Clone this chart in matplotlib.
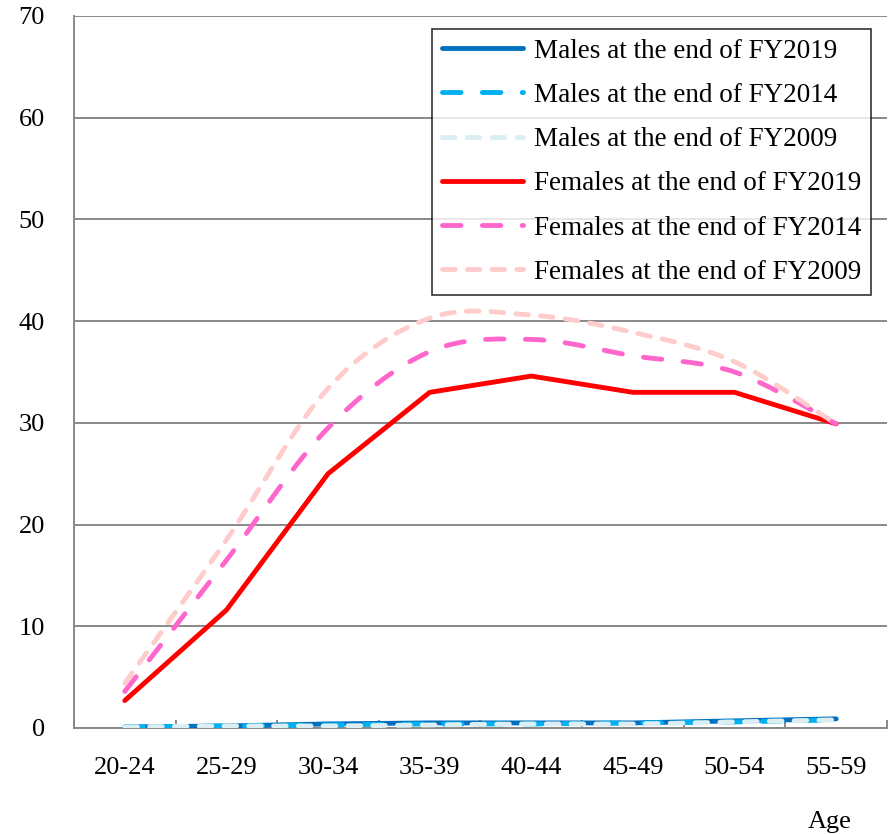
import matplotlib
matplotlib.use("Agg")
import matplotlib.pyplot as plt
import numpy as np
from matplotlib.path import Path
from matplotlib.patches import PathPatch
from matplotlib.lines import Line2D

categories = ["20-24", "25-29", "30-34", "35-39", "40-44", "45-49", "50-54", "55-59"]
males_2019 = [0.1, 0.2, 0.4, 0.5, 0.5, 0.5, 0.7, 0.9]
males_2014 = [0.1, 0.2, 0.3, 0.4, 0.4, 0.5, 0.6, 0.8]
males_2009 = [0.1, 0.2, 0.2, 0.3, 0.4, 0.4, 0.6, 0.8]
females_2019 = [2.7, 11.6, 25.0, 33.0, 34.6, 33.0, 33.0, 29.9]
females_2014 = [3.6, 16.5, 29.5, 37.0, 38.2, 36.6, 35.0, 29.9]
females_2009 = [4.4, 18.5, 33.4, 40.3, 40.6, 38.9, 36.0, 29.9]
labels = ["Males at the end of FY2019", "Males at the end of FY2014", "Males at the end of FY2009",
          "Females at the end of FY2019", "Females at the end of FY2014", "Females at the end of FY2009"]
yticks = [0, 10, 20, 30, 40, 50, 60, 70]

plt.rcParams['font.family'] = ['Liberation Serif', 'DejaVu Serif']
FS = 19

fig = plt.figure(figsize=(8.95, 8.34), dpi=100)
ax = fig.add_axes([74/895, 1-728/834, (887-74)/895, (728-16)/834])

x = np.arange(len(categories))
grid_c = '#898989'

def smooth_path(xs, ys):
    pts = np.column_stack([xs, ys]).astype(float)
    n = len(pts)
    verts = [pts[0]]
    codes = [Path.MOVETO]
    for i in range(n - 1):
        p0 = pts[i - 1] if i > 0 else pts[i]
        p1 = pts[i]
        p2 = pts[i + 1]
        p3 = pts[i + 2] if i + 2 < n else pts[i + 1]
        c1 = p1 + (p2 - p0) / 6.0
        c2 = p2 - (p3 - p1) / 6.0
        verts += [c1, c2, p2]
        codes += [Path.CURVE4] * 3
    return Path(verts, codes)

dash_long = (0, (3.8, 4.4))
dash_short = (0, (2.6, 2.5))
LW = 3.5

series = [
    (males_2019, '#0070C0', '-', False),
    (males_2014, '#00B0F0', dash_long, True),
    (males_2009, '#DAEEF3', dash_short, True),
    (females_2019, '#FF0000', '-', False),
    (females_2014, '#FF66CC', dash_long, True),
    (females_2009, '#FFCCCC', dash_short, True),
]

handles = []
for (vals, col, ls, smooth), lab in zip(series, labels):
    if smooth:
        patch = PathPatch(smooth_path(x, vals), fill=False, edgecolor=col, lw=LW,
                          linestyle=ls, capstyle='round', joinstyle='round', zorder=3)
        ax.add_patch(patch)
    else:
        ax.plot(x, vals, color=col, lw=LW, linestyle=ls, solid_capstyle='round',
                solid_joinstyle='round', zorder=3)
    handles.append(Line2D([0], [0], color=col, lw=LW, linestyle=ls,
                          dash_capstyle='round', solid_capstyle='round'))

ax.set_xlim(-0.5, len(categories) - 0.5)
ax.set_ylim(0, 70)
ax.set_yticks(yticks)
ax.set_yticklabels([str(v) for v in yticks], fontsize=FS)
ax.set_xticks(x)
ax.set_xticklabels(categories, fontsize=FS)
ax.set_xticks(np.arange(-0.5, len(categories)), minor=True)
ax.tick_params(axis='x', which='major', length=0, pad=21)
ax.tick_params(axis='x', which='minor', direction='in', length=5.5, width=1.4, color=grid_c)
ax.tick_params(axis='y', length=0, pad=21)
ax.yaxis.grid(True, color=grid_c, lw=1.4, zorder=0)
ax.set_axisbelow(True)
for s in ['top', 'right']:
    ax.spines[s].set_visible(False)
for s in ['left', 'bottom']:
    ax.spines[s].set_color(grid_c)
    ax.spines[s].set_linewidth(1.4)

leg = fig.legend(handles, labels, loc='upper left', bbox_to_anchor=(432/895, 1-29/834),
                 fontsize=19.5, frameon=True, fancybox=False, edgecolor='black',
                 handlelength=3.0, handletextpad=0.4, labelspacing=0.71, borderpad=0.36,
                 borderaxespad=0)
leg.get_frame().set_linewidth(1.2)

fig.text(830/895, 1-822/834, "Age", fontsize=FS, ha='center', va='center')

fig.savefig("out.png", dpi=100)
